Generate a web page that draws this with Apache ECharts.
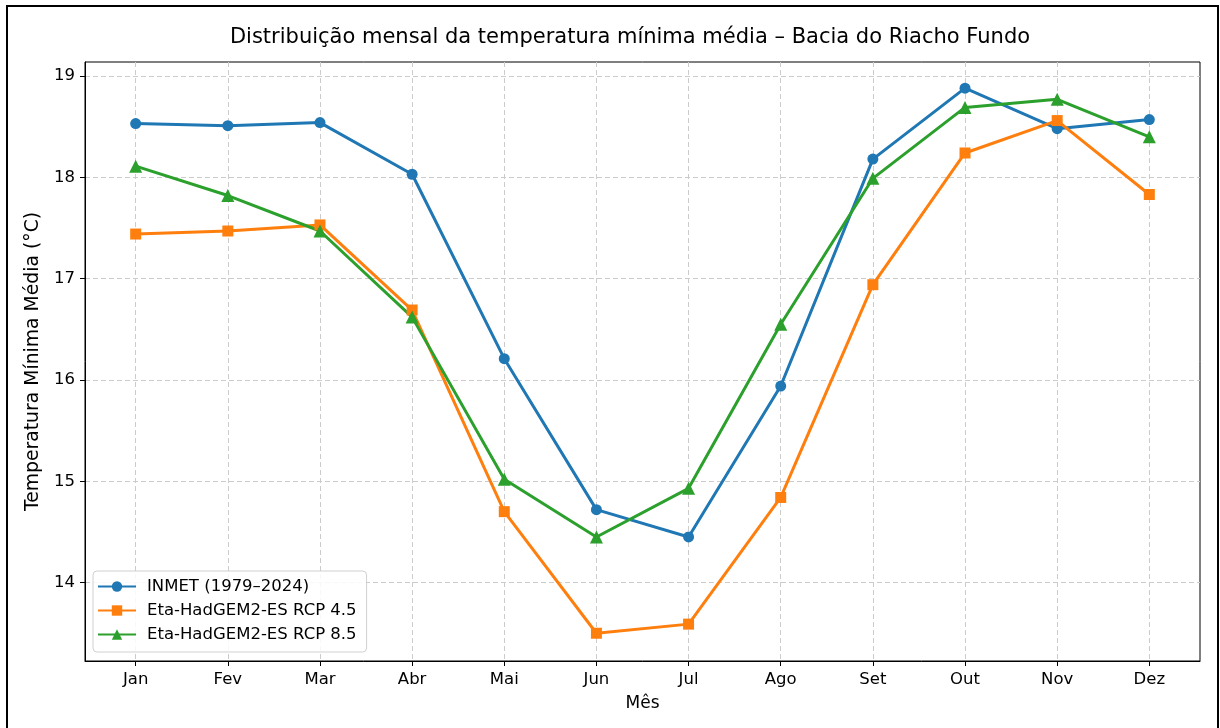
<!DOCTYPE html>
<html>
<head>
<meta charset="utf-8">
<script src="https://cdn.jsdelivr.net/npm/echarts@6/dist/echarts.min.js"></script>
<style>
html,body{margin:0;padding:0;background:#fff;}
#c{width:1220px;height:728px;}
</style>
</head>
<body>
<div id="c"></div>
<script>
const months = ['Jan','Fev','Mar','Abr','Mai','Jun','Jul','Ago','Set','Out','Nov','Dez'];
const yTicks = [14, 15, 16, 17, 18, 19];
const inmet = [18.53, 18.51, 18.54, 18.03, 16.21, 14.72, 14.45, 15.94, 18.18, 18.88, 18.48, 18.57];
const rcp45 = [17.44, 17.47, 17.53, 16.69, 14.70, 13.50, 13.59, 14.84, 16.94, 18.24, 18.56, 17.83];
const rcp85 = [18.11, 17.82, 17.47, 16.62, 15.02, 14.45, 14.93, 16.55, 17.99, 18.69, 18.77, 18.40];
const seriesNames = ['INMET (1979–2024)', 'Eta-HadGEM2-ES RCP 4.5', 'Eta-HadGEM2-ES RCP 8.5'];

const FONT = 'DejaVu Sans';
const chart = echarts.init(document.getElementById('c'), null, {renderer: 'canvas'});
const pts = arr => arr.map((v, i) => [i, v]);
const mkSeries = (name, data, color, symbol, size) => ({
  name, type: 'line', data: pts(data), color,
  symbol, symbolSize: size, showSymbol: true,
  lineStyle: {width: 3, color},
  itemStyle: {color},
  emphasis: {disabled: true},
  animation: false
});
chart.setOption({
  animation: false,
  textStyle: {fontFamily: FONT},
  title: {
    text: 'Distribuição mensal da temperatura mínima média – Bacia do Riacho Fundo',
    left: 625, top: 22, textAlign: 'center',
    textStyle: {fontFamily: FONT, fontSize: 21, fontWeight: 'normal', color: '#000'}
  },
  grid: {left: 85, top: 62, width: 1115, height: 599, show: true, borderColor: '#000', borderWidth: 1, backgroundColor: 'transparent'},
  legend: {
    orient: 'vertical', left: 93, top: 571,
    data: seriesNames,
    itemWidth: 38, itemHeight: 13, itemGap: 7,
    padding: [7, 10, 9, 4],
    backgroundColor: 'rgba(255,255,255,0.85)', borderColor: '#d0d0d0', borderWidth: 1, borderRadius: 4,
    textStyle: {fontFamily: FONT, fontSize: 16.5, color: '#000', padding: [0, 0, 0, 6]}
  },
  xAxis: {
    type: 'value', min: -0.55, max: 11.55,
    name: 'Mês', nameLocation: 'middle', nameGap: 34,
    nameTextStyle: {fontFamily: FONT, fontSize: 17, color: '#000'},
    axisLine: {show: true, onZero: false, lineStyle: {color: '#000', width: 1}},
    axisTick: {show: true, length: 5, lineStyle: {color: '#000'}, customValues: months.map((m, i) => i)},
    axisLabel: {fontFamily: FONT, fontSize: 16.5, color: '#000', margin: 10, customValues: months.map((m, i) => i), formatter: v => months[Math.round(v)]},
    splitLine: {show: true, lineStyle: {color: '#cccccc', type: [5, 3], width: 1}}
  },
  yAxis: {
    type: 'value', min: 13.226, max: 19.138,
    name: 'Temperatura Mínima Média (°C)', nameLocation: 'middle', nameGap: 39,
    nameTextStyle: {fontFamily: FONT, fontSize: 18.8, color: '#000'},
    axisLine: {show: true, onZero: false, lineStyle: {color: '#000', width: 1}},
    axisTick: {show: true, length: 5, lineStyle: {color: '#000'}, customValues: yTicks},
    axisLabel: {fontFamily: FONT, fontSize: 16.5, color: '#000', margin: 10, customValues: yTicks, formatter: v => String(Math.round(v))},
    splitLine: {show: true, lineStyle: {color: '#cccccc', type: [5, 3], width: 1}}
  },
  graphic: [{
    type: 'rect', silent: true, z: 100,
    shape: {x: 7, y: 6, width: 1211, height: 740},
    style: {fill: 'none', stroke: '#000', lineWidth: 2}
  }],
  series: [
    mkSeries(seriesNames[0], inmet, '#1f77b4', 'circle', 11),
    mkSeries(seriesNames[1], rcp45, '#ff7f0e', 'rect', 11),
    mkSeries(seriesNames[2], rcp85, '#2ca02c', 'triangle', 13)
  ]
});
</script>
</body>
</html>
